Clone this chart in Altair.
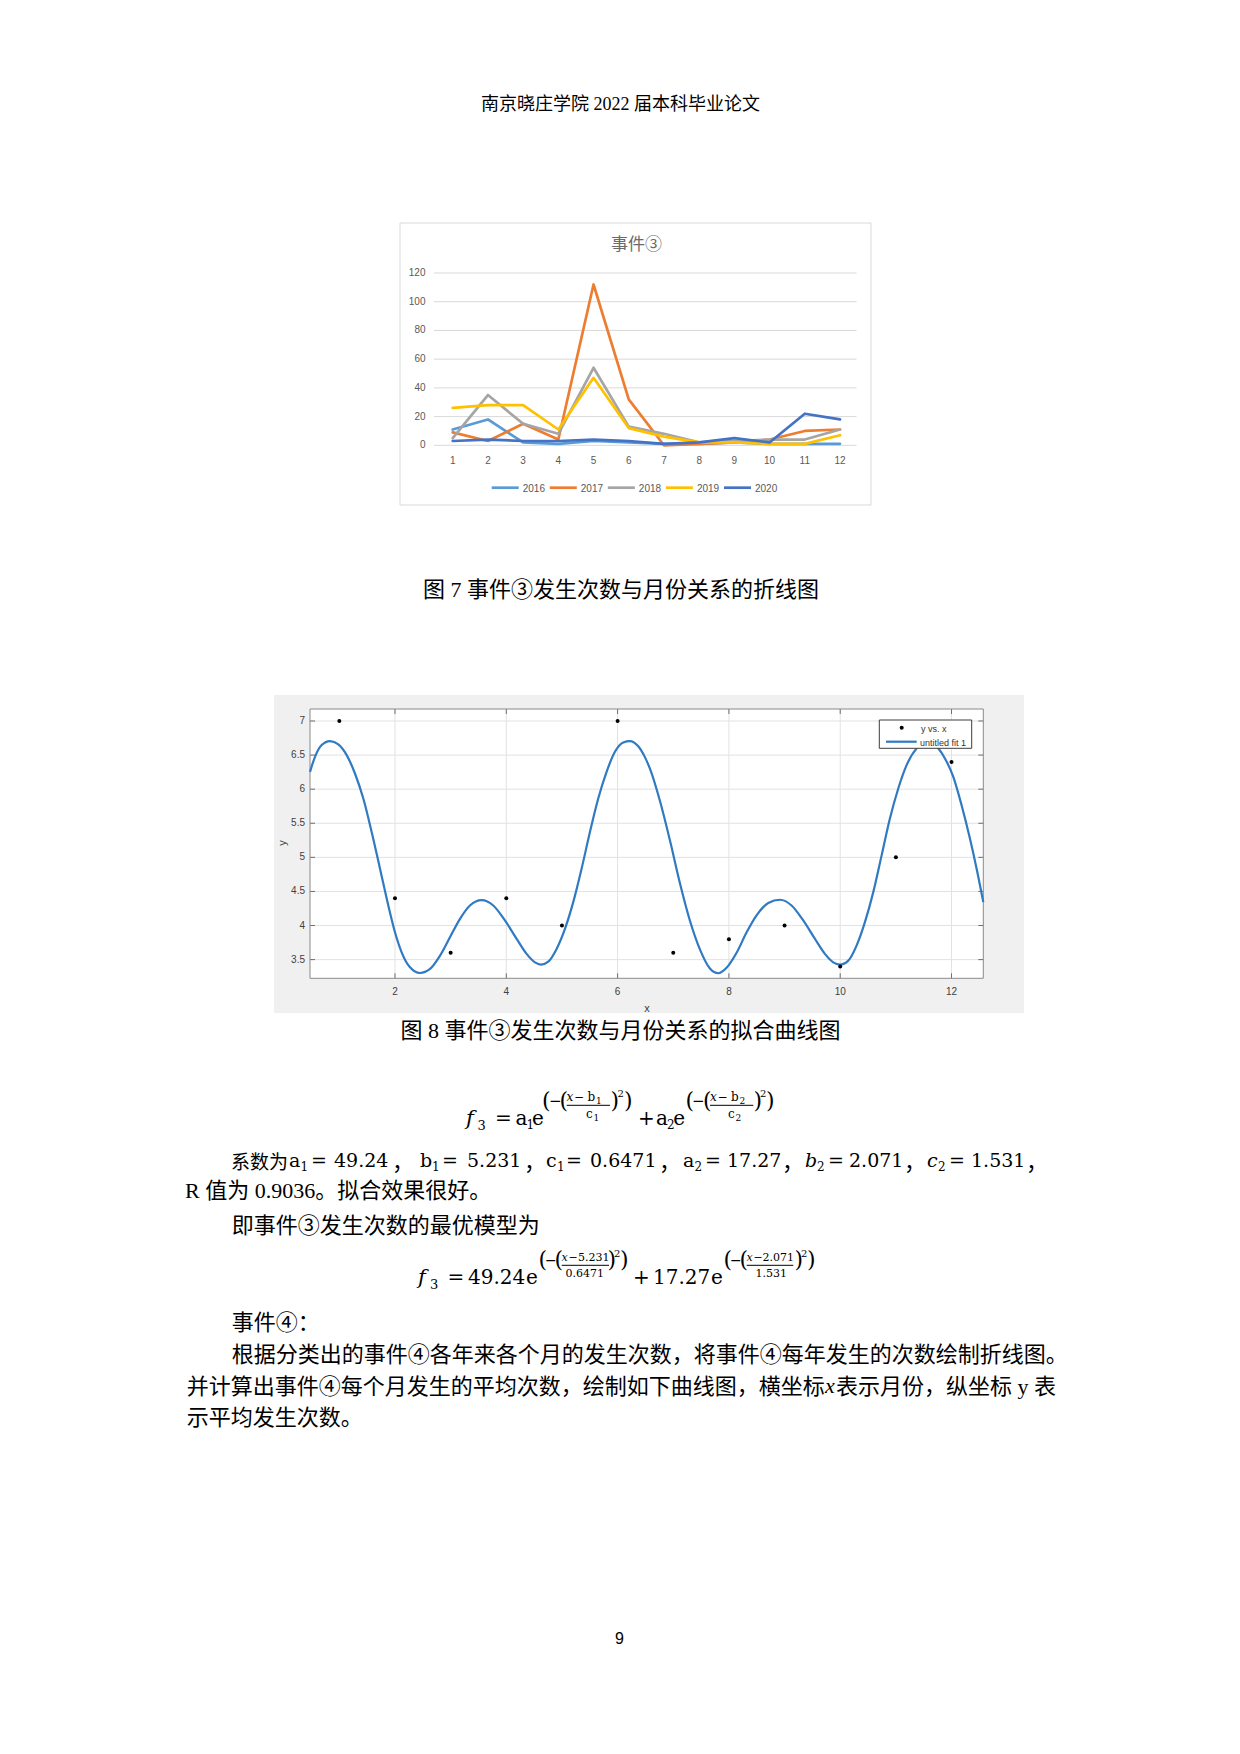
import altair as alt
import pandas as pd

# ------------------------------------------------------------------ data
months = list(range(1, 13))
years = ["2016", "2017", "2018", "2019", "2020"]
counts_2016 = [11, 18, 2, 1, 3, 2, 1, 1, 2, 1, 1, 1]
counts_2017 = [9, 3, 15, 4, 112, 32, 0, 1, 2, 4, 10, 11]
counts_2018 = [5, 35, 15, 8, 54, 13, 8, 2, 3, 4, 4, 11]
counts_2019 = [26, 28, 28, 11, 47, 12, 6, 2, 2, 1, 1, 7]
counts_2020 = [3, 4, 3, 3, 4, 3, 1, 2, 5, 2, 22, 18]
year_colors = ["#5B9BD5", "#ED7D31", "#A5A5A5", "#FFC000", "#4472C4"]
chart1_yticks = [0, 20, 40, 60, 80, 100, 120]
chart1_title = "事件③"

obs_x = months
obs_y = [7.0, 4.4, 3.6, 4.4, 4.0, 7.0, 3.6, 3.8, 4.0, 3.4, 5.0, 6.4]
fit_x = [0.473, 0.563, 0.683, 0.832, 0.982, 1.132, 1.281, 1.431, 1.581, 1.731,
         1.880, 2.000, 2.120, 2.270, 2.449, 2.630, 2.810, 2.988, 3.168, 3.347,
         3.557, 3.766, 3.976, 4.186, 4.365, 4.515, 4.623, 4.754, 4.904, 5.054,
         5.203, 5.353, 5.503, 5.652, 5.802, 5.952, 6.102, 6.221, 6.371, 6.491,
         6.581, 6.760, 6.940, 7.120, 7.300, 7.479, 7.659, 7.809, 7.958, 8.138,
         8.318, 8.497, 8.707, 8.917, 9.126, 9.336, 9.546, 9.725, 9.875, 9.995,
         10.145, 10.294, 10.444, 10.594, 10.744, 10.893, 11.043, 11.193, 11.373, 11.490,
         11.610, 11.762, 11.882, 12.032, 12.181, 12.331, 12.451, 12.571]
fit_y = [6.254, 6.475, 6.647, 6.706, 6.657, 6.500, 6.230, 5.863, 5.372, 4.833,
         4.294, 3.902, 3.607, 3.387, 3.304, 3.363, 3.559, 3.828, 4.098, 4.294,
         4.372, 4.294, 4.074, 3.804, 3.584, 3.460, 3.426, 3.470, 3.657, 3.951,
         4.343, 4.833, 5.372, 5.863, 6.254, 6.549, 6.686, 6.706, 6.630, 6.470,
         6.300, 5.830, 5.250, 4.620, 4.070, 3.650, 3.370, 3.300, 3.380, 3.600,
         3.900, 4.150, 4.330, 4.378, 4.294, 4.074, 3.804, 3.584, 3.460, 3.426,
         3.485, 3.706, 4.049, 4.490, 5.029, 5.569, 6.010, 6.353, 6.598, 6.680,
         6.706, 6.600, 6.451, 6.181, 5.765, 5.275, 4.833, 4.343]
chart2_xticks = [2, 4, 6, 8, 10, 12]
chart2_yticks = [3.5, 4.0, 4.5, 5.0, 5.5, 6.0, 6.5, 7.0]
legend2_labels = ["y vs. x", "untitled fit 1"]

header_text = "南京晓庄学院 2022 届本科毕业论文"
caption7 = "图 7 事件③发生次数与月份关系的折线图"
caption8 = "图 8 事件③发生次数与月份关系的拟合曲线图"
line_r = "R 值为 0.9036。拟合效果很好。"
line_model = "即事件③发生次数的最优模型为"
line_ev4 = "事件④："
line_p1 = "根据分类出的事件④各年来各个月的发生次数，将事件④每年发生的次数绘制折线图。"
line_p2a = "并计算出事件④每个月发生的平均次数，绘制如下曲线图，横坐标"
line_p2b = "表示月份，纵坐标 y 表"
line_p3 = "示平均发生次数。"
page_no = "9"

# ------------------------------------------------------------------ helpers
O = 8
SERIF = "'Liberation Serif', 'Noto Sans CJK SC'"
CJK = "'Noto Sans CJK SC'"
SANS = "'Liberation Sans', 'Noto Sans CJK SC'"
MATH = "'DejaVu Serif'"
ONE = pd.DataFrame({"k": [0]})
L = []


def px(v):
    return v - O


def T(text, x, y, size, font=SERIF, align="left", baseline="alphabetic",
      color="#000000", italic=False, angle=None):
    kw = dict(text=text, align=align, baseline=baseline, fontSize=size,
              font=font, color=color)
    if italic:
        kw["fontStyle"] = "italic"
    if angle is not None:
        kw["angle"] = angle
    L.append(alt.Chart(ONE).mark_text(**kw).encode(x=alt.value(px(x)), y=alt.value(px(y))))


def C(text, x, center, size=22, font=SERIF, align="left", color="#000000"):
    # line of text positioned by the centre of its CJK glyphs
    T(text, x, center + 0.08 * size, size, font=font, align=align,
      baseline="middle", color=color)


def R(x1, x2, y1, y2, fill=None, stroke=None, sw=1):
    kw = {"fill": fill if fill else "transparent"}
    if stroke:
        kw["stroke"] = stroke
        kw["strokeWidth"] = sw
    L.append(alt.Chart(ONE).mark_rect(**kw).encode(
        x=alt.value(px(x1)), x2=alt.value(px(x2)),
        y=alt.value(px(y1)), y2=alt.value(px(y2))))


def H(x1, x2, y, color="#000000", sw=1):
    L.append(alt.Chart(ONE).mark_rule(color=color, strokeWidth=sw).encode(
        x=alt.value(px(x1)), x2=alt.value(px(x2)), y=alt.value(px(y))))


def M(pieces):
    for p in pieces:
        text, x, y, size = p[0], p[1], p[2], p[3]
        it = len(p) > 4 and p[4]
        if text == "，":
            C(text, x, y, 22, font=CJK)
        else:
            T(text, x, y, size, font=MATH, italic=it)


# ------------------------------------------------------------------ header
C(header_text, 620.5, 103.5, 18, align="center")

# ------------------------------------------------------------------ chart 1 (Excel line chart)
R(400, 871, 223, 505, fill="#ffffff", stroke="#d9d9d9")
s1x = alt.Scale(domain=[0.5, 12.5], range=[px(435.1), px(857.6)], nice=False, zero=False)
s1y = alt.Scale(domain=[0, 120], range=[px(445.3), px(273)], nice=False, zero=False)
cscale = alt.Scale(domain=years, range=year_colors)

df_t1 = pd.DataFrame({"v": chart1_yticks, "lab": [str(v) for v in chart1_yticks]})
L.append(alt.Chart(df_t1).mark_rule(color="#d9d9d9", strokeWidth=1).encode(
    y=alt.Y("v:Q", scale=s1y, axis=None), x=alt.value(px(434)), x2=alt.value(px(856.5))))
L.append(alt.Chart(df_t1).mark_text(align="right", baseline="middle", fontSize=10,
                                    font=SANS, color="#595959").encode(
    y=alt.Y("v:Q", scale=s1y, axis=None), x=alt.value(px(425.5)), text="lab:N"))
df_m = pd.DataFrame({"m": months, "lab": [str(m) for m in months]})
L.append(alt.Chart(df_m).mark_text(align="center", baseline="middle", fontSize=10,
                                   font=SANS, color="#595959").encode(
    x=alt.X("m:Q", scale=s1x, axis=None), y=alt.value(px(461)), text="lab:N"))

series = [counts_2016, counts_2017, counts_2018, counts_2019, counts_2020]
rows = []
for yr, vals in zip(years, series):
    for m, v in zip(months, vals):
        rows.append({"year": yr, "month": m, "count": v})
df_lines = pd.DataFrame(rows)
L.append(alt.Chart(df_lines).mark_line(strokeWidth=2.7, strokeJoin="round", strokeCap="round").encode(
    x=alt.X("month:Q", scale=s1x, axis=None),
    y=alt.Y("count:Q", scale=s1y, axis=None),
    color=alt.Color("year:N", scale=cscale, legend=None)))

C(chart1_title, 636.5, 244, 17, font=CJK, align="center", color="#6b6b6b")

df_leg = pd.DataFrame({"year": years, "yr": [int(y) for y in years]})
sleg = alt.Scale(domain=[int(years[0]), int(years[-1])], range=[px(491.7), px(724)], nice=False, zero=False)
L.append(alt.Chart(df_leg).mark_rule(strokeWidth=2.7, x2Offset=27).encode(
    x=alt.X("yr:Q", scale=sleg, axis=None), x2="yr:Q", y=alt.value(px(487.7)),
    color=alt.Color("year:N", scale=cscale, legend=None)))
L.append(alt.Chart(df_leg).mark_text(align="left", baseline="middle", dx=31, fontSize=10,
                                     font=SANS, color="#595959").encode(
    x=alt.X("yr:Q", scale=sleg, axis=None), y=alt.value(px(488.5)), text="year:N"))

C(caption7, 621, 588, 22, align="center")

# ------------------------------------------------------------------ chart 2 (MATLAB fit)
R(274, 1024, 695, 1013, fill="#f0f0f0")
R(310, 983.3, 709, 978.3, fill="#ffffff")
s2x = alt.Scale(domain=[0.473, 12.571], range=[px(310), px(983.3)], nice=False, zero=False)
s2y = alt.Scale(domain=[3.226, 7.176], range=[px(978.3), px(709)], nice=False, zero=False)
df_xt = pd.DataFrame({"v": chart2_xticks, "lab": [f"{v:g}" for v in chart2_xticks]})
df_yt = pd.DataFrame({"v": chart2_yticks, "lab": [f"{v:g}" for v in chart2_yticks]})
L.append(alt.Chart(df_xt).mark_rule(color="#e2e2e2", strokeWidth=1).encode(
    x=alt.X("v:Q", scale=s2x, axis=None), y=alt.value(px(709)), y2=alt.value(px(978.3))))
L.append(alt.Chart(df_yt).mark_rule(color="#e2e2e2", strokeWidth=1).encode(
    y=alt.Y("v:Q", scale=s2y, axis=None), x=alt.value(px(310)), x2=alt.value(px(983.3))))
for ya, yb in [(978.3, 973.3), (709, 714)]:
    L.append(alt.Chart(df_xt).mark_rule(color="#6e6e6e", strokeWidth=1).encode(
        x=alt.X("v:Q", scale=s2x, axis=None), y=alt.value(px(ya)), y2=alt.value(px(yb))))
for xa, xb in [(310, 315), (983.3, 978.3)]:
    L.append(alt.Chart(df_yt).mark_rule(color="#6e6e6e", strokeWidth=1).encode(
        y=alt.Y("v:Q", scale=s2y, axis=None), x=alt.value(px(xa)), x2=alt.value(px(xb))))
R(310, 983.3, 709, 978.3, stroke="#8a8a8a", sw=1)
L.append(alt.Chart(df_xt).mark_text(align="center", baseline="middle", fontSize=10,
                                    font=SANS, color="#404040").encode(
    x=alt.X("v:Q", scale=s2x, axis=None), y=alt.value(px(991.5)), text="lab:N"))
L.append(alt.Chart(df_yt).mark_text(align="right", baseline="middle", fontSize=10,
                                    font=SANS, color="#404040").encode(
    y=alt.Y("v:Q", scale=s2y, axis=None), x=alt.value(px(305)), text="lab:N"))
T("x", 647, 1008.5, 11, font=SANS, align="center", baseline="middle", color="#404040")
T("y", 283, 843, 11, font=SANS, align="center", baseline="middle", color="#404040", angle=270)

df_fit = pd.DataFrame({"x": fit_x, "y": fit_y})
L.append(alt.Chart(df_fit).mark_line(color="#2f7ac2", strokeWidth=2.2, interpolate="monotone").encode(
    x=alt.X("x:Q", scale=s2x, axis=None), y=alt.Y("y:Q", scale=s2y, axis=None)))
df_obs = pd.DataFrame({"x": obs_x, "y": obs_y})
L.append(alt.Chart(df_obs).mark_circle(size=16, color="#000000", opacity=1).encode(
    x=alt.X("x:Q", scale=s2x, axis=None), y=alt.Y("y:Q", scale=s2y, axis=None)))

R(879.3, 971.7, 720, 748.3, fill="#ffffff", stroke="#3c3c3c")
L.append(alt.Chart(ONE).mark_circle(size=16, color="#000000", opacity=1).encode(
    x=alt.value(px(901.7)), y=alt.value(px(727.7))))
H(886, 916.7, 741.7, color="#2f7ac2", sw=2.2)
T(legend2_labels[0], 921, 728.5, 9, font=SANS, baseline="middle", color="#333333")
T(legend2_labels[1], 920, 742.5, 9, font=SANS, baseline="middle", color="#333333")

C(caption8, 620.5, 1029, 22, align="center")

# ------------------------------------------------------------------ formula 1
B, S, N, D = 1124.5, 1106.5, 1101, 1117.5
M([("f", 466, B, 21, True), ("3", 477.5, B + 5, 13), ("=", 495, B, 20),
   ("a", 515.5, B, 20), ("1", 526.5, B + 4, 12), ("e", 532, B, 20),
   ("(", 542, S + 1, 22), ("−", 549, S - 1, 15), ("(", 559.5, S + 1, 22),
   ("x", 566.5, N, 12, True), ("−", 574, N, 12), ("b", 587.5, N, 12), ("1", 596, N + 3, 9),
   ("c", 586, D, 12), ("1", 593.5, D + 3, 9),
   (")", 610.5, S + 1, 22), ("2", 617.5, 1097, 10), (")", 624, S + 1, 22),
   ("+", 638, B, 20),
   ("a", 656, B, 20), ("2", 667, B + 4, 12), ("e", 673.3, B, 20),
   ("(", 685.5, S + 1, 22), ("−", 692, S - 1, 15), ("(", 703, S + 1, 22),
   ("x", 710, N, 12, True), ("−", 717.5, N, 12), ("b", 731, N, 12), ("2", 739.5, N + 3, 9),
   ("c", 728, D, 12), ("2", 735.5, D + 3, 9),
   (")", 753.5, S + 1, 22), ("2", 760, 1097, 10), (")", 766, S + 1, 22)])
H(566.7, 610, 1105.3, sw=1)
H(710, 753.3, 1105.3, sw=1)

# ------------------------------------------------------------------ coefficient line
C("系数为", 231, 1161, 19)
b1 = 1166.5
M([("a", 289, b1, 19), ("1", 300.5, b1 + 4, 12), ("=", 311, b1, 19), ("49.24", 334, b1, 19),
   ("，", 392, 1161, 22),
   ("b", 420, b1, 19), ("1", 432, b1 + 4, 12), ("=", 442, b1, 19), ("5.231", 467, b1, 19),
   ("，", 524, 1161, 22),
   ("c", 546, b1, 19), ("1", 557, b1 + 4, 12), ("=", 566, b1, 19), ("0.6471", 590, b1, 19),
   ("，", 659, 1161, 22),
   ("a", 683, b1, 19), ("2", 694.5, b1 + 4, 12), ("=", 705, b1, 19), ("17.27", 727, b1, 19),
   ("，", 782, 1161, 22),
   ("b", 805, b1, 19, True), ("2", 817, b1 + 4, 12), ("=", 828, b1, 19), ("2.071", 849, b1, 19),
   ("，", 904, 1161, 22),
   ("c", 927, b1, 19, True), ("2", 938, b1 + 4, 12), ("=", 949, b1, 19), ("1.531", 971, b1, 19),
   ("，", 1026, 1161, 22)])

C(line_r, 185, 1189, 22)
C(line_model, 231.7, 1224.5, 22)

# ------------------------------------------------------------------ formula 2
B, S, N, D = 1284, 1266.3, 1260.7, 1277.3
M([("f", 418, B, 21, True), ("3", 430, B + 5, 13), ("=", 447.5, B, 20),
   ("49.24", 468, B, 20), ("e", 526, B, 20),
   ("(", 538.5, S + 1, 22), ("−", 545, S - 1, 14), ("(", 554.5, S + 1, 22),
   ("x", 561.5, N, 11, True), ("−", 568.5, N, 11), ("5.231", 578, N, 11),
   ("0.6471", 565.5, D, 11),
   (")", 607.5, S + 1, 22), ("2", 614, 1257, 10), (")", 620, S + 1, 22),
   ("+", 633, B, 20), ("17.27", 653, B, 20), ("e", 711, B, 20),
   ("(", 723.5, S + 1, 22), ("−", 730, S - 1, 14), ("(", 739.5, S + 1, 22),
   ("x", 746.5, N, 11, True), ("−", 753.5, N, 11), ("2.071", 762.5, N, 11),
   ("1.531", 755.5, D, 11),
   (")", 794.5, S + 1, 22), ("2", 801, 1257, 10), (")", 807, S + 1, 22)])
H(561.7, 609, 1265.3, sw=1)
H(746.7, 793.3, 1265.3, sw=1)

# ------------------------------------------------------------------ paragraphs
C(line_ev4, 231.7, 1321.7, 22)
C(line_p1, 231.7, 1353.3, 22)
C(line_p2a, 186.7, 1385, 22)
T("x", 825, 1385 + 7.5, 22, font="'Liberation Serif'", italic=True)
C(line_p2b, 836, 1385, 22)
C(line_p3, 186.7, 1416.7, 22)
T(page_no, 619.5, 1639, 16, font=SANS, align="center", baseline="middle")

chart = alt.layer(*L).resolve_scale(
    x="independent", y="independent", color="independent"
).properties(
    width=1224, height=1738, padding=0,
    autosize=alt.AutoSizeParams(type="none"),
    background="#ffffff",
).configure_view(stroke=None)

chart.save("out.html", embed_options={"renderer": "svg", "actions": False})
